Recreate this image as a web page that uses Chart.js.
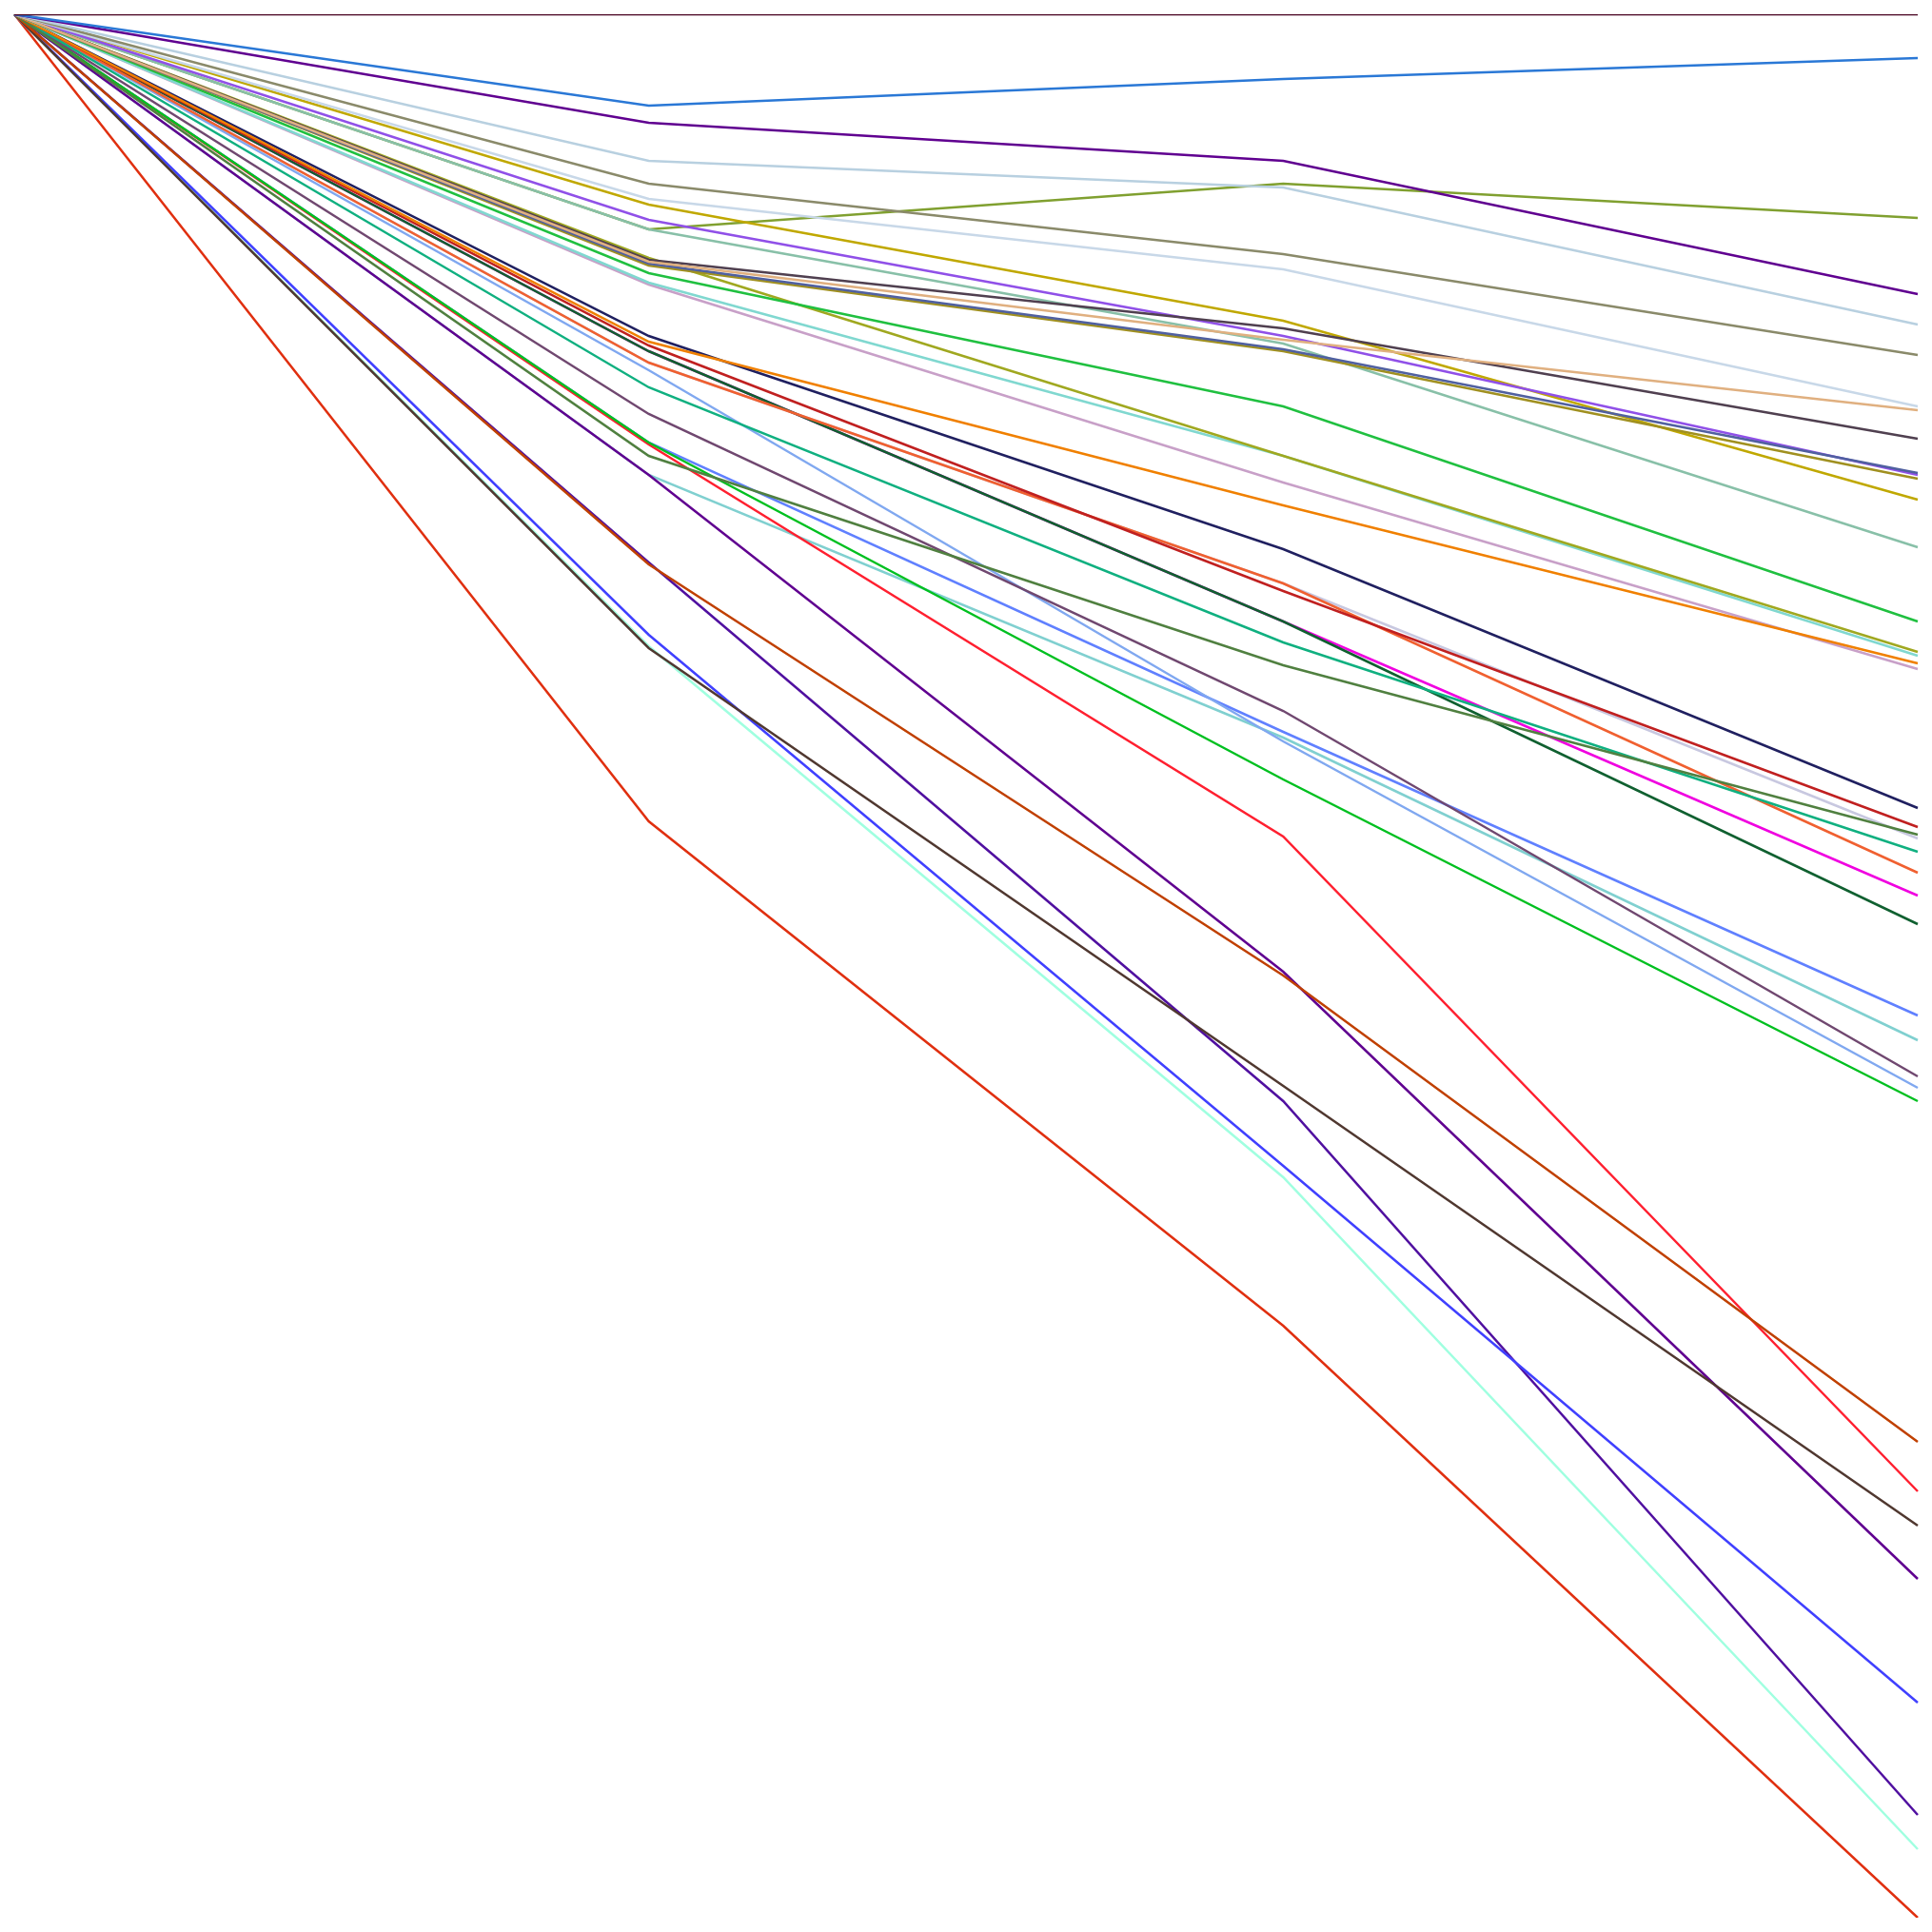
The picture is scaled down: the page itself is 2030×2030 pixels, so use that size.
<!DOCTYPE html>
<html>
<head>
<meta charset="utf-8">
<script src="https://cdn.jsdelivr.net/npm/chart.js@4"></script>
<style>
  html, body { margin: 0; padding: 0; background: #fff; }
  #wrap { width: 2030px; height: 2030px; position: relative; }
</style>
</head>
<body>
<div id="wrap"><canvas id="myChart"></canvas></div>
<script>
const categories = ['1', '2', '3', '4'];

const seriesValues = [
  [0, 0, 0, 0],
  [0, -4.8, -3.4, -2.3],
  [0, -11.3, -8.9, -10.7],
  [0, -5.7, -7.7, -14.7],
  [0, -7.7, -9.1, -16.3],
  [0, -8.9, -12.6, -17.9],
  [0, -9.7, -13.4, -20.6],
  [0, -13.0, -17.1, -20.8],
  [0, -12.9, -16.5, -22.3],
  [0, -13.1, -17.6, -24.1],
  [0, -10.8, -16.9, -24.2],
  [0, -13.2, -17.7, -24.4],
  [0, -10.0, -16.1, -25.5],
  [0, -11.3, -17.3, -28.0],
  [0, -13.6, -20.6, -31.9],
  [0, -12.8, -23.2, -33.5],
  [0, -14.1, -23.2, -33.7],
  [0, -17.2, -25.8, -34.1],
  [0, -14.2, -24.6, -34.4],
  [0, -16.9, -28.1, -41.7],
  [0, -17.4, -30.3, -42.7],
  [0, -23.2, -34.2, -43.1],
  [0, -18.3, -29.9, -43.3],
  [0, -19.6, -33.0, -44.0],
  [0, -18.3, -29.9, -45.1],
  [0, -17.7, -31.9, -46.3],
  [0, -17.7, -31.9, -47.8],
  [0, -22.5, -37.7, -52.6],
  [0, -24.2, -38.0, -53.9],
  [0, -21.0, -36.6, -55.8],
  [0, -18.7, -38.2, -56.4],
  [0, -22.5, -40.2, -57.1],
  [0, -28.9, -50.5, -75.0],
  [0, -22.6, -43.2, -77.6],
  [0, -33.3, -56.3, -79.4],
  [0, -24.2, -50.3, -82.2],
  [0, -32.6, -60.5, -88.7],
  [0, -28.8, -57.1, -94.6],
  [0, -33.2, -61.1, -96.4],
  [0, -42.4, -68.9, -100],
];

const lineColors = [
  '#46001e', '#2a78d6', '#80a030', '#600090', '#b8d0e0',
  '#8a8a6a', '#c8d8e8', '#e0b080', '#504050', '#5060a0',
  '#9050e8', '#a09020', '#c0a800', '#88c0a8', '#20c040',
  '#a0a820', '#80d8d0', '#f08000', '#c8a0c8', '#202060',
  '#c02020', '#508040', '#c8c8e0', '#10b080', '#f06030',
  '#f000e0', '#106030', '#6080ff', '#80d0d0', '#704870',
  '#80a8f0', '#00c020', '#c04000', '#ff2030', '#503830',
  '#600090', '#4040ff', '#5010a0', '#a0ffe0', '#e03010',
];

// lines that sit underneath another one on their first segments
const underneath = [2, 22, 25, 27, 28];

const datasets = seriesValues.map((vals, i) => ({
  label: 'Series ' + (i + 1),
  data: vals,
  borderColor: lineColors[i],
  backgroundColor: lineColors[i],
  borderWidth: 2.5,
  pointRadius: 0,
  tension: 0,
  fill: false,
  order: underneath.includes(i) ? 1 : 0,
}));

new Chart(document.querySelector('#myChart'), {
  type: 'line',
  data: { labels: categories, datasets: datasets },
  options: {
    responsive: true,
    maintainAspectRatio: false,
    animation: false,
    layout: { padding: 15 },
    plugins: { legend: { display: false }, tooltip: { enabled: false } },
    scales: {
      x: { display: false, offset: false },
      y: { display: false, min: -100, max: 0 },
    },
  },
});
</script>
</body>
</html>
